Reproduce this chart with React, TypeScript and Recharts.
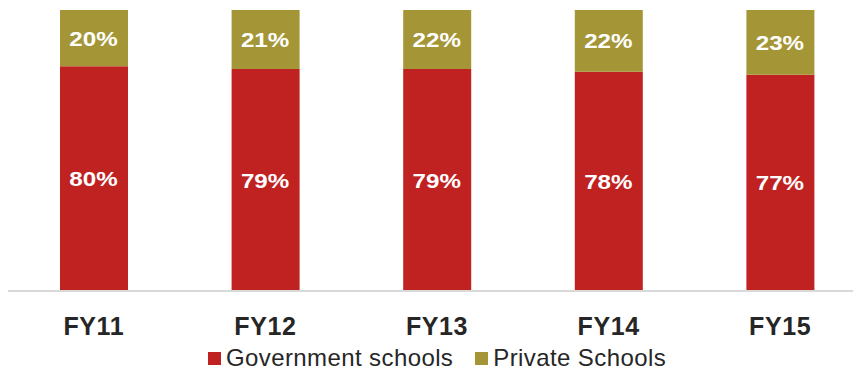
import React from 'react';
import { BarChart, Bar, XAxis, YAxis, Legend, LabelList } from 'recharts';

const years = ['FY11', 'FY12', 'FY13', 'FY14', 'FY15'];
const governmentShare = [80, 79, 79, 78, 77];
const privateShare = [20, 21, 22, 22, 23];

const GOV_COLOR = '#C02121';
const PRIVATE_COLOR = '#A49636';

const data = years.map((year, i) => ({
  year,
  government: governmentShare[i],
  private: privateShare[i],
}));

const legendItems = [
  { label: 'Government schools', color: GOV_COLOR },
  { label: 'Private Schools', color: PRIVATE_COLOR },
];

// custom legend so the spacing matches the original
const renderLegend = () => (
  <div
    style={{
      height: 26,
      display: 'flex',
      justifyContent: 'center',
      alignItems: 'center',
      fontSize: 24,
      letterSpacing: 0.4,
      color: '#262626',
    }}
  >
    {legendItems.map((item, i) => (
      <div
        key={item.label}
        style={{ display: 'flex', alignItems: 'center', marginLeft: i > 0 ? 22 : 0 }}
      >
        <span
          style={{
            display: 'inline-block',
            width: 13,
            height: 13,
            background: item.color,
            marginRight: 5,
          }}
        />
        <span>{item.label}</span>
      </div>
    ))}
  </div>
);

// value label in the middle of each segment; the original font is a bit wider than Arial
const LABEL_SIZE = 21;
const renderValue = (props: any) => {
  const { x, y, width, height, value } = props;
  const cx = Number(x) + Number(width) / 2 - 0.5;
  const cy = Number(y) + Number(height) / 2 + LABEL_SIZE * 0.358;
  return (
    <text
      transform={`translate(${cx}, ${cy}) scale(1.15, 1)`}
      x={0}
      y={0}
      textAnchor="middle"
      fill="#FFFFFF"
      fontSize={LABEL_SIZE}
      fontWeight="bold"
    >
      {`${value}%`}
    </text>
  );
};

export default function App() {
  return (
    <div
      style={{
        width: 853,
        height: 363,
        overflow: 'hidden',
        fontFamily: '"Liberation Sans", Arial, sans-serif',
      }}
    >
      <BarChart
        width={858}
        height={363}
        data={data}
        margin={{ top: 2, right: 0, left: 0, bottom: 0 }}
      >
        <XAxis
          dataKey="year"
          height={54}
          tickLine={false}
          tickSize={0}
          tickMargin={26}
          axisLine={{ stroke: '#D9D9D9', strokeWidth: 2 }}
          tick={{ fill: '#262626', fontSize: 25, fontWeight: 'bold', letterSpacing: 0.6 }}
        />
        <YAxis hide domain={[0, 100]} allowDataOverflow />
        <Legend verticalAlign="bottom" content={renderLegend} />
        <Bar dataKey="government" stackId="a" fill={GOV_COLOR} barSize={68} isAnimationActive={false}>
          <LabelList dataKey="government" content={renderValue} />
        </Bar>
        <Bar dataKey="private" stackId="a" fill={PRIVATE_COLOR} barSize={68} isAnimationActive={false}>
          <LabelList dataKey="private" content={renderValue} />
        </Bar>
      </BarChart>
    </div>
  );
}
